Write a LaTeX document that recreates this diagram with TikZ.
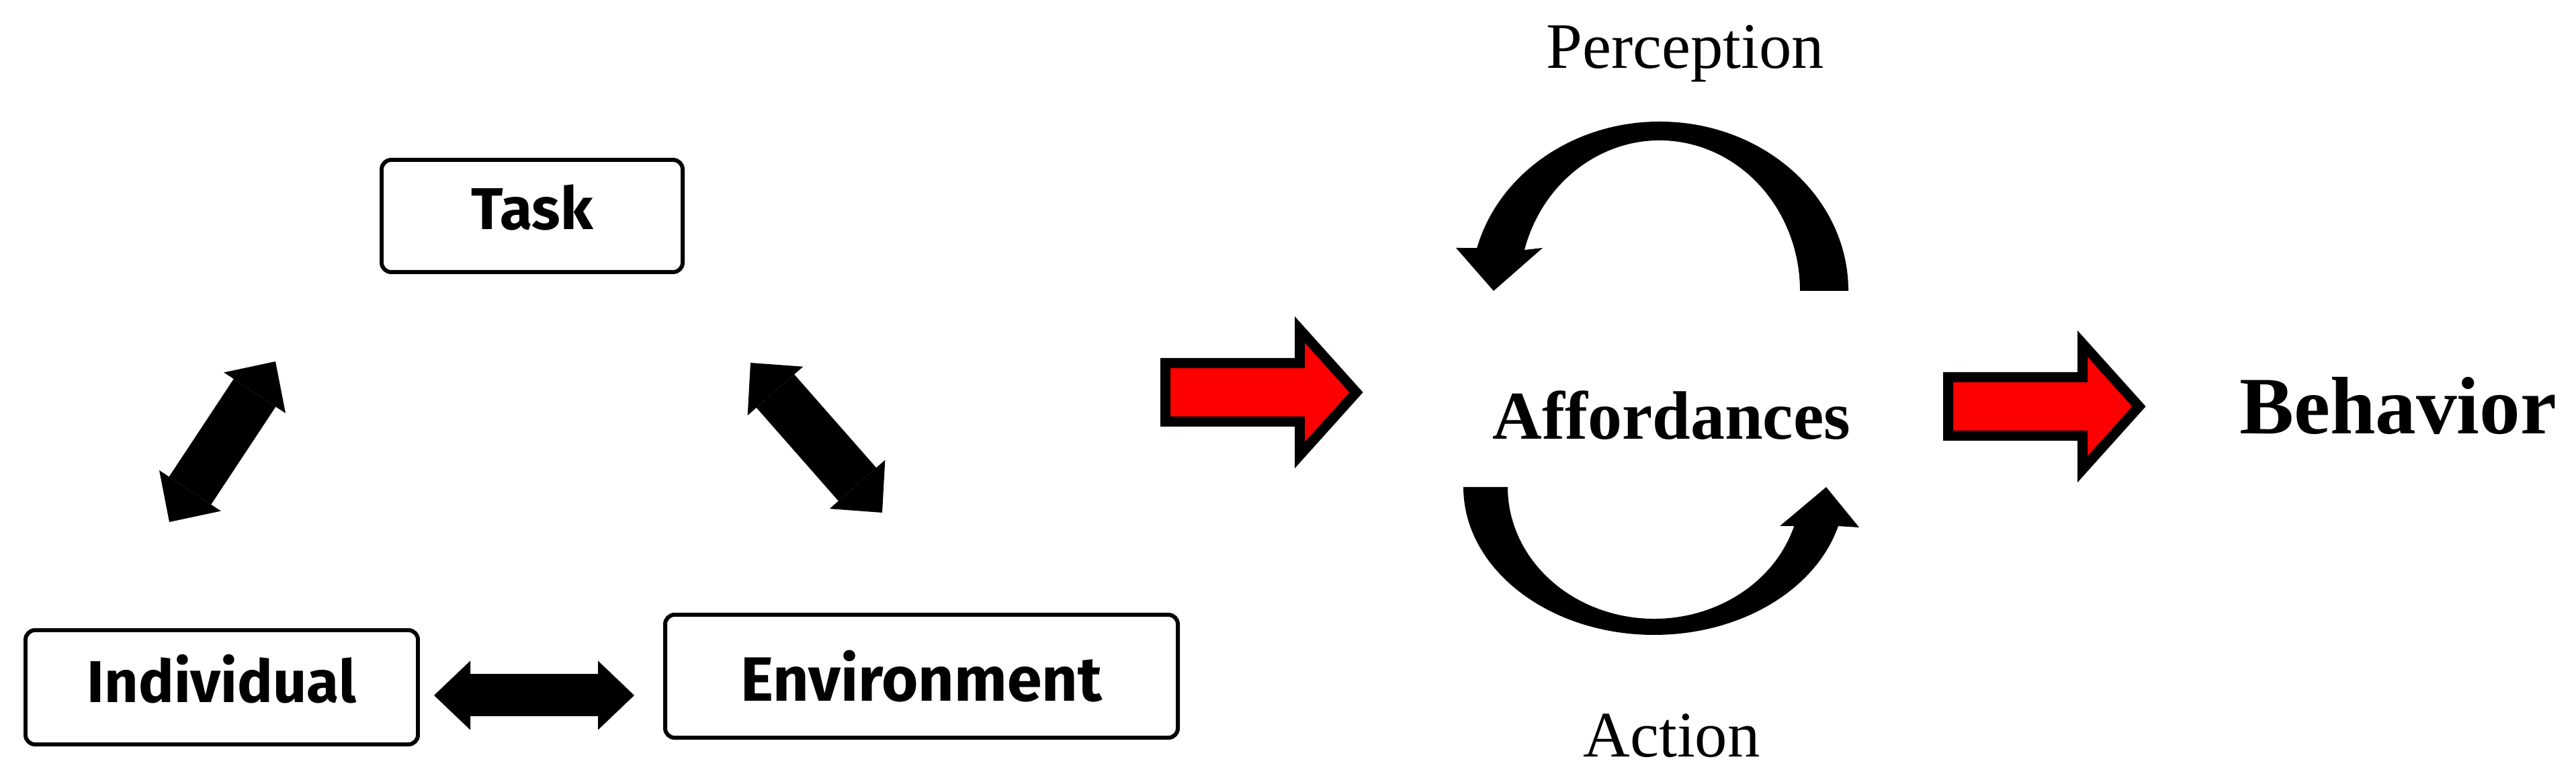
\documentclass[tikz,border=0pt]{standalone}
\usepackage{fontspec}
\setmainfont{Liberation Serif}
\newfontfamily\boxfont{Fira Sans}
\usepackage{xcolor}
\usepackage{tikz}
\usetikzlibrary{arrows.meta}

\begin{document}
\begin{tikzpicture}[
    box/.style={draw,line width=1.7pt,rounded corners=4pt,inner sep=0pt,
      font=\boxfont\bfseries\fontsize{25}{30}\selectfont},
    biarrow/.style={line width=0.75cm,
      >={Triangle[width=1.1cm,length=0.56cm,line width=0pt]},<->},
    redarrow/.style={fill=red,draw=black,line width=0.15cm,miter limit=10},
    cyclearc/.style={fill=black},
    word/.style={anchor=base,inner sep=0pt,font=\fontsize{27.5}{32}\selectfont}]
  \useasboundingbox (0,0) rectangle (38.34,11.58);

  \node[box,minimum width=4.48cm,minimum height=1.67cm,text depth=0.26cm] (task) at (7.92,8.365) {Task};
  \node[box,minimum width=5.84cm,minimum height=1.70cm,text depth=0.26cm] (indiv) at (3.30,1.35) {Individual};
  \node[box,minimum width=7.63cm,minimum height=1.83cm,
    font=\boxfont\bfseries\fontsize{26.5}{30}\selectfont] (env) at (13.715,1.515) {Environment};

  \coordinate (ti1) at (4.10,6.20);
  \coordinate (ti2) at (2.52,3.81);
  \coordinate (te1) at (11.17,6.18);
  \coordinate (te2) at (13.13,3.95);
  \coordinate (ie1) at (6.46,1.23);
  \coordinate (ie2) at (9.44,1.23);
  \draw[biarrow] (ti1) -- (ti2);
  \draw[biarrow] (te1) -- (te2);
  \draw[biarrow,line width=0.63cm,
    >={Triangle[width=1.03cm,length=0.54cm,line width=0pt]}] (ie1) -- (ie2);

  \foreach \x/\y in {17.345/5.74,28.995/5.53}
    \filldraw[redarrow] (\x,\y) ++(0,0.435) -- ++(2,0) -- ++(0,0.5) -- ++(0.84,-0.935)
      -- ++(-0.84,-0.935) -- ++(0,0.5) -- ++(-2,0) -- cycle;

  \coordinate (pc) at (24.70,7.25);
  \coordinate (ac) at (24.62,4.33);
  \fill[cyclearc] ([shift={(pc)}]0:2.81 and 2.52)
    arc[start angle=0,end angle=165.3,x radius=2.81,y radius=2.52]
    -- (21.67,7.89) -- (22.23,7.25) -- (22.96,7.89)
    -- ([shift={(pc)}]164.2:2.09 and 2.24)
    arc[start angle=164.2,end angle=0,x radius=2.09,y radius=2.24] -- cycle;
  \fill[cyclearc] ([shift={(ac)}]180:2.84 and 2.20)
    arc[start angle=180,end angle=344.7,x radius=2.84,y radius=2.20]
    -- (27.67,3.73) -- (27.18,4.33) -- (26.49,3.75)
    -- ([shift={(ac)}]342.8:2.18 and 1.96)
    arc[start angle=342.8,end angle=180,x radius=2.18,y radius=1.96] -- cycle;

  \node[word] (perc) at (25.08,10.56) {Perception};
  \node[word,font=\bfseries\fontsize{29}{34}\selectfont] (aff) at (24.88,5.04) {Affordances};
  \node[word,font=\bfseries\fontsize{34.5}{40}\selectfont] (beh) at (35.69,5.12) {Behavior};
  \node[word] (act) at (24.88,0.31) {Action};
\end{tikzpicture}
\end{document}
